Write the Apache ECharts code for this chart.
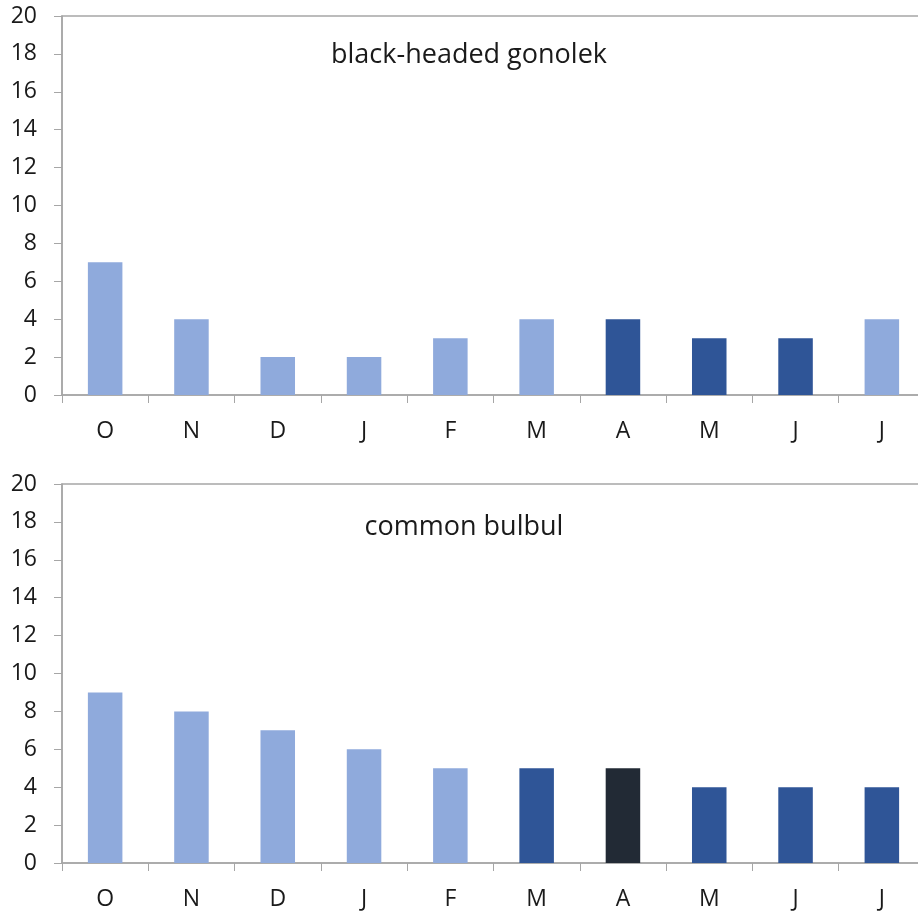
<!DOCTYPE html>
<html>
<head>
<meta charset="utf-8">
<script src="https://cdn.jsdelivr.net/npm/echarts@6/dist/echarts.min.js"></script>
<style>
  html, body { margin: 0; padding: 0; background: #fff; overflow: hidden; }
  #chart { width: 925px; height: 913px; }
</style>
</head>
<body>
<div id="chart"></div>
<script>
// Monthly counts, October to July
const months = ['O', 'N', 'D', 'J', 'F', 'M', 'A', 'M', 'J', 'J'];
const gonolekCounts = [7, 4, 2, 2, 3, 4, 4, 3, 3, 4];
const bulbulCounts = [9, 8, 7, 6, 5, 5, 5, 4, 4, 4];
// Shade per month: 0 = light, 1 = dark, 2 = darkest
const gonolekShade = [0, 0, 0, 0, 0, 0, 1, 1, 1, 0];
const bulbulShade = [0, 0, 0, 0, 0, 1, 2, 1, 1, 1];
const yTicks = [0, 2, 4, 6, 8, 10, 12, 14, 16, 18, 20];
const panelTitles = ['black-headed gonolek', 'common bulbul'];

const shadeColors = ['#8FAADC', '#2F5597', '#222A35'];
const axisGray = '#A6A6A6';
const fontFamily = '"Open Sans", "Liberation Sans", sans-serif';
const textColor = '#1a1a1a';

function barData(values, shades) {
  return values.map((v, i) => ({ value: v, itemStyle: { color: shadeColors[shades[i]] } }));
}

const grids = [
  { left: 62, right: 0, top: 16, height: 379 },
  { left: 62, right: 0, top: 484, height: 379 }
];

function xAxis(idx) {
  return {
    type: 'category', gridIndex: idx, data: months,
    axisLine: { lineStyle: { color: axisGray, width: 1.5 } },
    axisTick: { show: true, length: 8, alignWithLabel: false, lineStyle: { color: axisGray } },
    axisLabel: { color: textColor, fontSize: 23, fontFamily: fontFamily, margin: 25 }
  };
}
function yAxis(idx) {
  return {
    type: 'value', gridIndex: idx, min: yTicks[0], max: yTicks[yTicks.length - 1], interval: 2,
    axisLine: { show: true, lineStyle: { color: axisGray, width: 1.5 } },
    axisTick: { show: true, length: 8, lineStyle: { color: axisGray } },
    splitLine: { show: false },
    axisLabel: { color: textColor, fontSize: 23, fontFamily: fontFamily, margin: 25 }
  };
}

const chart = echarts.init(document.getElementById('chart'), null, { renderer: 'canvas' });
chart.setOption({
  animation: false,
  backgroundColor: '#fff',
  title: [
    { text: panelTitles[0], left: 464, top: 37, textAlign: 'center',
      textStyle: { fontSize: 27, fontWeight: 'normal', color: textColor, fontFamily: fontFamily } },
    { text: panelTitles[1], left: 459, top: 509, textAlign: 'center',
      textStyle: { fontSize: 27, fontWeight: 'normal', color: textColor, fontFamily: fontFamily } }
  ],
  grid: grids.map(g => Object.assign({ show: true, borderColor: axisGray, borderWidth: 1.5 }, g)),
  xAxis: [xAxis(0), xAxis(1)],
  yAxis: [yAxis(0), yAxis(1)],
  series: [
    { type: 'bar', xAxisIndex: 0, yAxisIndex: 0, barWidth: '40%',
      data: barData(gonolekCounts, gonolekShade) },
    { type: 'bar', xAxisIndex: 1, yAxisIndex: 1, barWidth: '40%',
      data: barData(bulbulCounts, bulbulShade) }
  ]
});
</script>
</body>
</html>
